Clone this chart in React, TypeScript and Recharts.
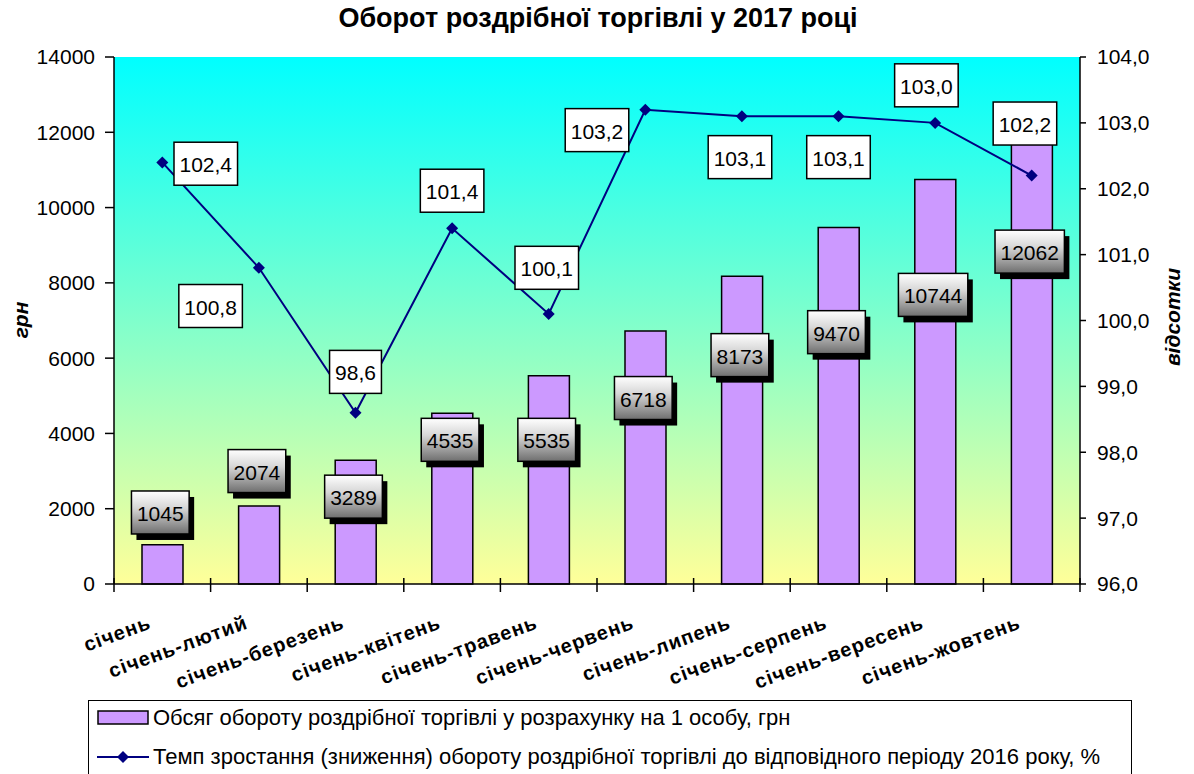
import React from 'react';
import { ComposedChart, Bar, Line, XAxis, YAxis, CartesianGrid, Legend, LabelList } from 'recharts';

const months = [
  'січень',
  'січень-лютий',
  'січень-березень',
  'січень-квітень',
  'січень-травень',
  'січень-червень',
  'січень-липень',
  'січень-серпень',
  'січень-вересень',
  'січень-жовтень',
];
const perCapita = [1045, 2074, 3289, 4535, 5535, 6718, 8173, 9470, 10744, 12062];
const growthRate = [102.4, 100.8, 98.6, 101.4, 100.1, 103.2, 103.1, 103.1, 103.0, 102.2];
const leftTicks = [0, 2000, 4000, 6000, 8000, 10000, 12000, 14000];
const rightTicks = [96, 97, 98, 99, 100, 101, 102, 103, 104];

// where the value boxes sit (in axis units)
const perCapitaLabelAt = [1900, 3000, 2320, 3830, 3830, 4940, 6080, 6690, 7680, 8830];
const rateLabelAt = [102.38, 100.22, 99.22, 101.97, 100.8, 102.89, 102.48, 102.48, 103.57, 102.99];
const rateLabelShift = [0.45, -0.5, 0, 0, -0.02, -0.5, -0.02, 0, -0.09, -0.07];

const FONT = '"Liberation Sans", Arial, sans-serif';
const PLOT_LEFT = 114;
const PLOT_RIGHT = 1080;
const BAND = (PLOT_RIGHT - PLOT_LEFT) / months.length;
const NAVY = '#000080';
const BAR_FILL = '#CC99FF';

const data = months.map((month, i) => ({
  month,
  perCapita: perCapita[i],
  rate: growthRate[i],
  perCapitaLabel: perCapitaLabelAt[i],
  rateLabel: rateLabelAt[i],
}));

const textWidth = (s: string, size: number) =>
  s.split('').reduce((w, c) => w + (c === ',' ? 0.278 : 0.556) * size, 0);

const MonthTick = ({ x, y, payload, index }: any) => {
  const last = index === months.length - 1;
  return (
    <g>
      <line x1={x - BAND / 2} x2={x - BAND / 2} y1={y - 6} y2={y + 8} stroke="#000" strokeWidth={1.5} />
      {last && <line x1={x + BAND / 2} x2={x + BAND / 2} y1={y - 6} y2={y + 8} stroke="#000" strokeWidth={1.5} />}
      <text
        transform={`translate(${x - 10},${y + 44}) rotate(-20)`}
        textAnchor="end"
        fontSize={20}
        fontWeight="bold"
        letterSpacing={1}
        fontFamily={FONT}
        fill="#000"
      >
        {payload.value}
      </text>
    </g>
  );
};

const Diamond = ({ cx, cy, index }: any) => (
  <path key={index} d={`M${cx},${cy - 6}L${cx + 6},${cy}L${cx},${cy + 6}L${cx - 6},${cy}Z`} fill={NAVY} />
);

const PerCapitaBox = ({ x, y, index }: any) => {
  const text = String(perCapita[index]);
  const w = textWidth(text, 21) + 11;
  const h = 43;
  const cx = x - 2;
  return (
    <g>
      <rect x={cx - w / 2 + 5} y={y - h / 2 + 6} width={w} height={h} fill="#000" />
      <rect x={cx - w / 2} y={y - h / 2} width={w} height={h} fill="url(#greyBox)" stroke="#000" strokeWidth={1.5} />
      <text x={cx} y={y + 1} textAnchor="middle" dominantBaseline="central" fontSize={21} fontFamily={FONT} fill="#000">
        {text}
      </text>
    </g>
  );
};

const RateBox = ({ x, y, index }: any) => {
  const text = growthRate[index].toFixed(1).replace('.', ',');
  const w = textWidth(text, 21) + 11;
  const h = 43;
  const cx = x + rateLabelShift[index] * BAND;
  return (
    <g>
      <rect x={cx - w / 2} y={y - h / 2} width={w} height={h} fill="#fff" stroke="#000" strokeWidth={1.5} />
      <text x={cx} y={y + 1} textAnchor="middle" dominantBaseline="central" fontSize={21} fontFamily={FONT} fill="#000">
        {text}
      </text>
    </g>
  );
};

const AxisTitle = ({ cx, cy, text }: any) => (
  <text
    transform={`translate(${cx},${cy}) rotate(-90)`}
    textAnchor="middle"
    dominantBaseline="central"
    fontSize={21}
    fontWeight="bold"
    fontStyle="italic"
    fontFamily={FONT}
    fill="#000"
  >
    {text}
  </text>
);

const ChartLegend = () => (
  <div style={{ height: 80, position: 'relative', fontFamily: FONT, fontSize: 22, color: '#000' }}>
    <div
      style={{
        position: 'absolute',
        left: 88,
        top: 6,
        width: 1044,
        height: 80,
        border: '1.5px solid #000',
        boxSizing: 'border-box',
        background: '#fff',
      }}
    >
      <div style={{ position: 'absolute', left: 8, top: 4, display: 'flex', alignItems: 'center', whiteSpace: 'nowrap' }}>
        <svg width={52} height={26}>
          <rect x={1} y={6} width={50} height={13} fill={BAR_FILL} stroke="#000" strokeWidth={1.5} />
        </svg>
        <span style={{ marginLeft: 4 }}>Обсяг обороту роздрібної торгівлі у розрахунку на 1 особу, грн</span>
      </div>
      <div style={{ position: 'absolute', left: 8, top: 43, display: 'flex', alignItems: 'center', whiteSpace: 'nowrap' }}>
        <svg width={52} height={26}>
          <line x1={0} x2={52} y1={13} y2={13} stroke={NAVY} strokeWidth={2} />
          <path d="M26,7L32,13L26,19L20,13Z" fill={NAVY} />
        </svg>
        <span style={{ marginLeft: 4 }}>
          Темп зростання (зниження) обороту роздрібної торгівлі до відповідного періоду 2016 року, %
        </span>
      </div>
    </div>
  </div>
);

export default function App() {
  return (
    <div style={{ position: 'relative', width: 1194, height: 774, background: '#fff', overflow: 'hidden' }}>
      <style>{'body{margin:0}'}</style>
      <div
        style={{
          position: 'absolute',
          top: 3,
          left: 0,
          width: 1194,
          textAlign: 'center',
          fontFamily: FONT,
          fontWeight: 'bold',
          fontSize: 27,
          paddingLeft: 2,
          boxSizing: 'border-box',
          zIndex: 2,
        }}
      >
        Оборот роздрібної торгівлі у 2017 році
      </div>
      <ComposedChart width={1194} height={774} data={data} margin={{ top: 57, right: 0, bottom: 0, left: 0 }}>
        <defs>
          <linearGradient id="plotBg" x1="0" y1="0" x2="0" y2="1">
            <stop offset="0%" stopColor="#00FFFF" />
            <stop offset="100%" stopColor="#FFFF99" />
          </linearGradient>
          <linearGradient id="greyBox" x1="0" y1="0" x2="0" y2="1">
            <stop offset="0%" stopColor="#FFFFFF" />
            <stop offset="40%" stopColor="#D6D6D6" />
            <stop offset="100%" stopColor="#6E6E6E" />
          </linearGradient>
        </defs>
        <CartesianGrid horizontal={false} vertical={false} fill="url(#plotBg)" />
        <XAxis
          dataKey="month"
          height={110}
          interval={0}
          tickLine={false}
          tickSize={0}
          tickMargin={0}
          tick={<MonthTick />}
          axisLine={{ stroke: '#000', strokeWidth: 1.5 }}
        />
        <YAxis
          yAxisId="left"
          width={114}
          domain={[0, 14000]}
          ticks={leftTicks}
          tickSize={9}
          tickMargin={10}
          axisLine={{ stroke: '#000', strokeWidth: 1.5 }}
          tickLine={{ stroke: '#000', strokeWidth: 1.5 }}
          tick={{ fill: '#000', fontSize: 21, fontFamily: FONT }}
          label={<AxisTitle cx={20} cy={320} text="грн" />}
        />
        <YAxis
          yAxisId="right"
          orientation="right"
          width={114}
          domain={[96, 104]}
          ticks={rightTicks}
          tickSize={6}
          tickMargin={11}
          tickFormatter={(v: number) => v.toFixed(1).replace('.', ',')}
          axisLine={{ stroke: '#000', strokeWidth: 1.5 }}
          tickLine={{ stroke: '#000', strokeWidth: 1.5 }}
          tick={{ fill: '#000', fontSize: 21, fontFamily: FONT }}
          label={<AxisTitle cx={1172} cy={317} text="відсотки" />}
        />
        <Legend verticalAlign="bottom" content={<ChartLegend />} wrapperStyle={{ left: 0, width: 1194 }} />
        <Bar
          yAxisId="left"
          dataKey="perCapita"
          fill={BAR_FILL}
          stroke="#000"
          strokeWidth={1.5}
          barSize={41}
          isAnimationActive={false}
        />
        <Line
          yAxisId="right"
          dataKey="rate"
          stroke={NAVY}
          strokeWidth={2}
          dot={<Diamond />}
          activeDot={false}
          isAnimationActive={false}
        />
        <Line
          yAxisId="left"
          dataKey="perCapitaLabel"
          stroke="none"
          dot={false}
          activeDot={false}
          legendType="none"
          isAnimationActive={false}
        >
          <LabelList dataKey="perCapitaLabel" content={<PerCapitaBox />} />
        </Line>
        <Line
          yAxisId="right"
          dataKey="rateLabel"
          stroke="none"
          dot={false}
          activeDot={false}
          legendType="none"
          isAnimationActive={false}
        >
          <LabelList dataKey="rateLabel" content={<RateBox />} />
        </Line>
      </ComposedChart>
    </div>
  );
}
